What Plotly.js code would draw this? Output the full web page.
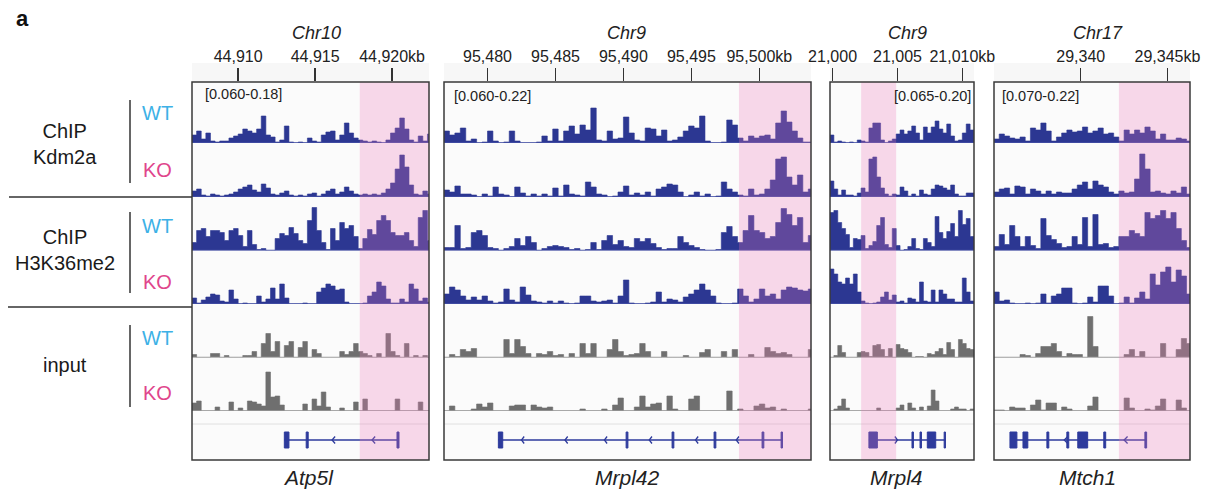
<!DOCTYPE html>
<html><head><meta charset="utf-8">
<script src="https://cdn.plot.ly/plotly-3.0.1.min.js"></script>
<style>html,body{margin:0;padding:0;background:#fff;}#chart{width:1215px;height:492px;}</style>
</head><body><div id="chart"></div>
<script>
// ---------------- DATA ----------------
const chromosomes = ["Chr10", "Chr9", "Chr9", "Chr17"];
const geneNames = ["Atp5l", "Mrpl42", "Mrpl4", "Mtch1"];
const dataRanges = ["[0.060-0.18]", "[0.060-0.22]", "[0.065-0.20]", "[0.070-0.22]"];
const viewStart = [44907.0, 95476.8, 20999.8, 29335.0];   // kb
const viewEnd = [44922.4, 95503.8, 21010.9, 29346.3];     // kb
const binSize = [0.3, 0.4, 0.3, 0.3];                     // kb
const tickVals = [[44910, 44915, 44920], [95480, 95485, 95490, 95495, 95500], [21000, 21005, 21010], [29340, 29345]];
const tickLabels = [["44,910", "44,915", "44,920kb"], ["95,480", "95,485", "95,490", "95,495", "95,500kb"], ["21,000", "21,005", "21,010kb"], ["29,340", "29,345kb"]];
const highlightStart = [44917.9, 95498.5, 21002.2, 29342.2];
const highlightEnd = [44922.4, 95503.8, 21004.9, 29346.3];
const groups = ["ChIP<br>Kdm2a", "ChIP<br>H3K36me2", "input"];
const conditions = ["WT", "KO"];

// Atp5l locus (Chr10)
const p1_kdm2a_wt = [8,12,4,10,2,1,2,2,5,7,9,14,12,10,14,27,8,6,1,3,17,1,0,1,0,5,2,1,8,11,12,3,8,20,10,5,3,2,1,2,1,0,3,10,15,25,14,3,1,7,2,9];
const p1_kdm2a_ko = [6,8,2,1,3,2,1,2,3,5,8,10,12,7,5,13,9,3,2,4,6,2,1,2,1,3,4,1,3,6,8,3,5,10,6,3,2,3,2,3,2,4,8,14,28,42,30,12,3,2,6,3];
const p1_h3k36_wt = [8,20,22,14,20,20,18,10,20,22,15,4,20,6,1,2,0,0,12,17,15,23,17,10,7,30,43,20,8,1,22,10,28,22,25,14,2,12,21,16,30,35,30,18,15,15,18,10,4,33,40,10];
const p1_h3k36_ko = [6,1,4,7,10,9,3,2,14,5,0,1,0,0,8,2,5,16,5,20,6,0,0,0,1,0,0,12,16,20,18,14,15,2,0,0,0,1,8,12,22,18,5,1,1,5,2,20,15,3,6,2];
const p1_input_wt = [3,0,0,0,4,4,0,2,0,0,0,2,2,6,0,14,24,6,16,0,12,16,0,10,16,0,8,4,0,0,0,0,6,3,6,14,6,4,2,0,4,0,24,6,2,0,14,0,2,0,2,0];
const p1_input_ko = [8,10,0,0,0,4,0,0,9,0,3,0,10,9,7,5,39,14,15,6,0,0,0,0,7,0,12,5,19,4,0,0,3,0,0,9,0,12,0,0,0,0,0,0,12,0,0,0,0,9,0,0];

// Mrpl42 locus (Chr9)
const p2_kdm2a_wt = [12,8,10,15,2,4,0,1,12,2,0,1,12,2,0,0,0,1,7,2,14,2,12,17,9,18,13,35,3,2,12,4,5,26,10,3,2,15,14,7,13,2,3,6,12,17,15,27,2,0,0,1,23,18,5,2,7,5,7,8,4,20,32,21,12,5,1,1];
const p2_kdm2a_ko = [7,5,11,3,3,2,0,3,1,10,3,2,0,10,4,1,3,1,3,1,9,1,12,3,2,1,15,10,3,2,0,1,5,11,2,4,2,5,1,8,10,13,12,5,0,2,5,1,3,0,1,15,8,5,2,1,8,2,3,8,17,38,40,20,12,22,5,8];
const p2_h3k36_wt = [3,3,25,2,3,18,20,15,3,2,0,2,4,12,5,14,8,0,2,4,5,4,3,1,2,0,1,8,1,10,15,6,10,4,3,12,9,12,7,3,1,2,2,14,8,5,3,1,0,0,1,18,24,14,8,20,35,20,18,12,14,28,42,36,25,33,8,15];
const p2_h3k36_ko = [10,17,14,8,4,7,4,8,3,1,2,15,4,2,17,9,3,2,1,3,1,3,1,0,1,8,8,3,2,3,4,1,8,24,1,0,0,1,2,12,2,5,4,2,7,10,14,20,14,8,1,0,0,1,15,8,2,5,15,8,10,5,14,17,16,14,13,15];
const p2_input_wt = [0,3,1,8,6,9,0,0,0,0,0,18,4,18,11,4,0,4,3,6,2,3,0,4,0,14,4,14,0,0,8,18,6,2,3,4,14,6,0,0,6,0,0,0,2,0,0,5,8,0,0,6,0,8,0,0,3,0,0,10,6,4,5,3,0,0,0,8];
const p2_input_ko = [0,5,0,0,0,2,7,4,8,0,0,0,5,6,6,0,6,4,3,4,0,0,0,0,0,2,0,0,0,2,0,6,13,0,0,4,15,4,7,8,0,15,2,0,0,12,15,0,0,0,0,0,20,0,2,0,0,5,7,3,4,0,2,0,0,0,0,2];

// Mrpl4 locus (Chr9)
const p3_kdm2a_wt = [8,1,2,1,0,1,0,3,2,1,15,20,20,3,0,2,4,9,13,9,12,17,10,3,16,10,16,22,14,10,19,7,2,3,10,19,13];
const p3_kdm2a_ko = [16,8,2,7,2,2,1,4,9,5,38,40,20,9,3,1,3,2,10,6,1,3,1,7,3,2,8,12,11,9,7,12,3,1,1,4,4];
const p3_h3k36_wt = [38,40,28,22,16,3,12,11,15,2,5,9,25,33,6,3,22,5,0,1,4,12,2,1,12,8,4,34,18,12,19,27,14,40,26,32,14];
const p3_h3k36_ko = [35,30,22,20,26,20,30,12,3,1,0,1,2,7,12,4,9,2,3,1,6,5,2,22,3,2,14,2,14,10,5,5,2,2,26,12,3];
const p3_input_wt = [0,2,12,5,0,0,0,5,6,5,1,12,13,8,1,9,0,13,9,8,5,0,1,1,0,4,3,6,9,3,15,8,0,18,14,9,8];
const p3_input_ko = [0,2,5,12,3,0,0,0,0,0,0,0,3,0,0,0,0,3,6,0,8,3,0,4,0,5,21,10,0,0,0,2,4,2,2,0,2];

// Mtch1 locus (Chr17)
const p4_kdm2a_wt = [4,9,7,5,4,6,2,15,13,20,12,2,6,10,13,11,12,16,10,12,15,9,10,6,2,13,9,13,10,16,12,4,9,3,3,5,4,2];
const p4_kdm2a_ko = [5,8,9,3,11,10,3,8,6,3,6,3,5,4,4,8,12,15,8,16,12,10,5,3,6,4,5,18,43,28,5,6,4,3,6,4,10,3];
const p4_h3k36_wt = [4,16,6,25,14,4,14,5,2,32,15,11,7,3,4,14,6,33,4,36,6,7,3,4,14,14,20,17,14,38,32,35,40,32,38,22,10,3];
const p4_h3k36_ko = [12,3,4,1,0,0,1,0,1,10,1,8,10,16,16,1,0,1,7,2,18,18,8,0,1,7,1,6,12,5,30,19,32,37,22,34,28,10];
const p4_input_wt = [0,0,0,0,0,3,2,0,4,11,11,14,6,1,4,3,3,0,41,11,0,0,0,0,0,3,8,1,6,0,0,0,14,0,0,8,19,14];
const p4_input_ko = [1,1,0,4,3,3,0,6,11,1,8,8,0,4,2,0,0,0,5,14,0,0,0,0,0,13,3,0,0,2,1,5,12,0,0,11,3,0];

// Gene models (kb): exons [start, end], strand, chevron positions
const atp5l_exons = [[44913.0, 44913.3], [44914.42, 44914.55], [44920.32, 44920.45]];
const mrpl42_exons = [[95480.8, 95481.12], [95490.2, 95490.33], [95493.58, 95493.71], [95496.67, 95496.8], [95500.2, 95500.33], [95501.6, 95501.7]];
const mrpl4_exons = [[21002.8, 21003.45], [21006.12, 21006.23], [21006.74, 21006.85], [21007.3, 21007.95], [21008.6, 21008.7]];
const mtch1_exons = [[29335.92, 29336.32], [29336.67, 29336.95], [29338.05, 29338.16], [29339.2, 29339.31], [29339.83, 29340.4], [29341.33, 29341.44], [29343.7, 29343.8]];
const geneStrand = [-1, -1, 1, -1];
const atp5l_chevrons = [44916.1, 44918.7];
const mrpl42_chevrons = [95482.5, 95485.7, 95488.6, 95491.9, 95495.3, 95498.3];
const mrpl4_chevrons = [21005.0];
const mtch1_chevrons = [29339.05, 29342.5];

// ---------------- LAYOUT / STYLE ----------------
const signals = [
  [p1_kdm2a_wt, p1_kdm2a_ko, p1_h3k36_wt, p1_h3k36_ko, p1_input_wt, p1_input_ko],
  [p2_kdm2a_wt, p2_kdm2a_ko, p2_h3k36_wt, p2_h3k36_ko, p2_input_wt, p2_input_ko],
  [p3_kdm2a_wt, p3_kdm2a_ko, p3_h3k36_wt, p3_h3k36_ko, p3_input_wt, p3_input_ko],
  [p4_kdm2a_wt, p4_kdm2a_ko, p4_h3k36_wt, p4_h3k36_ko, p4_input_wt, p4_input_ko]
];
const exons = [atp5l_exons, mrpl42_exons, mrpl4_exons, mtch1_exons];
const chevrons = [atp5l_chevrons, mrpl42_chevrons, mrpl4_chevrons, mtch1_chevrons];

const W = 1215, H = 492;
const X = px => px / W;
const Y = px => 1 - px / H;
const FONT = "Liberation Sans, Arial, Helvetica, sans-serif";
const panelLeft = [192, 444, 830, 994];
const panelRight = [429, 811, 974, 1190];
const boxTop = 82, boxBottom = 460;
const trackBase = [143, 197, 250.5, 304, 357.5, 411];
const trackH = 52;
const chipColor = "#2c3792";
const chipBase = "#4652a6";
const inputColor = "#6f6f6f";
const inputBase = "#9a9a9a";
const geneColor = "#2d3a9c";
const pinkFill = "rgba(235,120,185,0.27)";

const layout = {
  width: W, height: H,
  margin: {l: 0, r: 0, t: 0, b: 0},
  paper_bgcolor: "#ffffff",
  plot_bgcolor: "rgba(0,0,0,0)",
  showlegend: false,
  font: {family: FONT, color: "#222"},
  shapes: [], annotations: []
};
const traces = [];

for (let p = 0; p < 4; p++) {
  const xn = p === 0 ? "" : String(p + 1);
  layout["xaxis" + xn] = {
    domain: [X(panelLeft[p]), X(panelRight[p])],
    range: [viewStart[p], viewEnd[p]],
    side: "top", anchor: "free", position: Y(81),
    tickmode: "array", tickvals: tickVals[p], ticktext: tickLabels[p],
    ticks: "outside", ticklen: 13, tickwidth: 1.5, tickcolor: "#333",
    tickfont: {family: FONT, size: 16, color: "#222"},
    showgrid: false, zeroline: false, showline: false, fixedrange: true
  };
  // background of the panel and ruler band
  layout.shapes.push({type: "rect", xref: "paper", yref: "paper", x0: X(panelLeft[p]), x1: X(panelRight[p]), y0: Y(boxBottom), y1: Y(boxTop), fillcolor: "#fbfbfb", line: {width: 0}, layer: "below"});
  layout.shapes.push({type: "rect", xref: "paper", yref: "paper", x0: X(panelLeft[p]), x1: X(panelRight[p]), y0: Y(boxTop), y1: Y(63), fillcolor: "#f7f7f7", line: {width: 0}, layer: "below"});

  for (let k = 0; k < 6; k++) {
    const n = p * 7 + k + 1;
    const yn = n === 1 ? "" : String(n);
    const base = trackBase[k];
    layout["yaxis" + yn] = {domain: [Y(base), Y(base - trackH)], range: [0, trackH], anchor: "x" + xn, visible: false, fixedrange: true};
    const vals = signals[p][k];
    const xs = [], ys = [];
    for (let i = 0; i < vals.length; i++) { xs.push(viewStart[p] + i * binSize[p]); ys.push(vals[i]); }
    xs.push(viewStart[p] + vals.length * binSize[p]); ys.push(vals[vals.length - 1]);
    const isInput = k >= 4;
    traces.push({
      type: "scatter", mode: "lines", x: xs, y: ys, xaxis: "x" + xn, yaxis: "y" + yn,
      line: {shape: "hv", width: 0.6, color: isInput ? inputColor : chipColor},
      fill: "tozeroy", fillcolor: isInput ? inputColor : chipColor, hoverinfo: "skip"
    });
    layout.shapes.push({type: "line", xref: "x" + xn + " domain", yref: "y" + yn, x0: 0, x1: 1, y0: 0, y1: 0,
      line: {color: isInput ? inputBase : chipBase, width: 1.3}, layer: "above"});
  }
  // gene track
  const gn = p * 7 + 7;
  layout["yaxis" + gn] = {domain: [Y(460), Y(418)], range: [-20, 22], anchor: "x" + xn, visible: false, fixedrange: true};
  layout.shapes.push({type: "line", xref: "x" + xn + " domain", yref: "paper", x0: 0, x1: 1, y0: Y(424), y1: Y(424), line: {color: "#e0e0e0", width: 1}, layer: "below"});
  const ex = exons[p];
  const gStart = Math.min(...ex.map(e => e[0])), gEnd = Math.max(...ex.map(e => e[1]));
  traces.push({type: "scatter", mode: "lines", x: [gStart, gEnd], y: [0, 0], xaxis: "x" + xn, yaxis: "y" + gn,
    line: {color: geneColor, width: 1.5}, hoverinfo: "skip"});
  ex.forEach(e => layout.shapes.push({type: "rect", xref: "x" + xn, yref: "y" + gn, x0: e[0], x1: e[1], y0: -8, y1: 8,
    fillcolor: geneColor, line: {color: geneColor, width: 1}, layer: "above"}));
  const cx = [], cy = [];
  const d = -0.2 * geneStrand[p];
  chevrons[p].forEach(c => { cx.push(c + d, c, c + d, null); cy.push(3.5, 0, -3.5, null); });
  traces.push({type: "scatter", mode: "lines", x: cx, y: cy, xaxis: "x" + xn, yaxis: "y" + gn,
    line: {color: geneColor, width: 1.3}, hoverinfo: "skip"});

  // highlight
  layout.shapes.push({type: "rect", xref: "x" + xn, yref: "paper", x0: highlightStart[p], x1: highlightEnd[p], y0: Y(boxBottom), y1: Y(boxTop),
    fillcolor: pinkFill, line: {width: 0}, layer: "above"});
  // box
  layout.shapes.push({type: "rect", xref: "paper", yref: "paper", x0: X(panelLeft[p]), x1: X(panelRight[p]), y0: Y(boxBottom), y1: Y(boxTop),
    fillcolor: "rgba(0,0,0,0)", line: {color: "#3a3a3a", width: 1.5}, layer: "above"});
}

// ---------- text ----------
const ann = (x, y, text, size, opts) => Object.assign({xref: "paper", yref: "paper", x: X(x), y: Y(y), text: text, showarrow: false,
  xanchor: "center", yanchor: "middle", font: {family: FONT, size: size, color: "#222"}}, opts || {});
layout.annotations.push(ann(22, 19, "<b>a</b>", 22, {font: {family: FONT, size: 22, color: "#111"}}));
const chrX = [316, 626, 907, 1098];
const geneX = [308, 627, 896, 1087];
for (let p = 0; p < 4; p++) {
  layout.annotations.push(ann(chrX[p], 33, "<i>" + chromosomes[p] + "</i>", 18));
  layout.annotations.push(ann(geneX[p], 477, "<i>" + geneNames[p] + "</i>", 21));
}
layout.annotations.push(ann(203, 94, dataRanges[0], 14.5, {xanchor: "left"}));
layout.annotations.push(ann(452, 96, dataRanges[1], 14.5, {xanchor: "left"}));
layout.annotations.push(ann(973, 96, dataRanges[2], 14.5, {xanchor: "right"}));
layout.annotations.push(ann(1000, 96, dataRanges[3], 14.5, {xanchor: "left"}));

const groupY = [144, 250, 365];
const wtY = [113, 226, 338], koY = [170, 282, 393];
const barTop = [100, 212, 325], barBot = [183, 293, 407];
for (let g = 0; g < 3; g++) {
  layout.annotations.push(ann(65, groupY[g], groups[g], 20, {font: {family: FONT, size: 20, color: "#1a1a1a"}}));
  layout.annotations.push(ann(157, wtY[g], conditions[0], 20, {font: {family: FONT, size: 20, color: "#3db1e6"}}));
  layout.annotations.push(ann(157, koY[g], conditions[1], 20, {font: {family: FONT, size: 20, color: "#e0458b"}}));
  layout.shapes.push({type: "line", xref: "paper", yref: "paper", x0: X(130), x1: X(130), y0: Y(barBot[g]), y1: Y(barTop[g]), line: {color: "#333", width: 1.5}});
}
layout.shapes.push({type: "line", xref: "paper", yref: "paper", x0: X(9), x1: X(192), y0: Y(197), y1: Y(197), line: {color: "#333", width: 1.5}});
layout.shapes.push({type: "line", xref: "paper", yref: "paper", x0: X(8), x1: X(192), y0: Y(307), y1: Y(307), line: {color: "#333", width: 1.5}});

Plotly.newPlot("chart", traces, layout, {staticPlot: true, displayModeBar: false});
</script>
</body></html>
